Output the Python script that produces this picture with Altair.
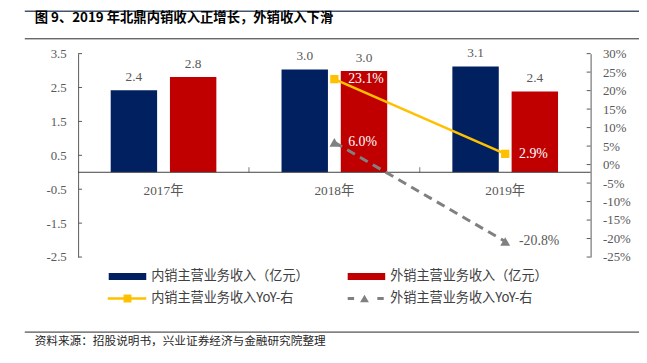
import altair as alt
import pandas as pd

# ---------------- data ----------------
years = ["2017年", "2018年", "2019年"]
series = ["内销主营业务收入（亿元）", "外销主营业务收入（亿元）"]
domestic_rev = [2.42, 3.03, 3.12]
export_rev = [2.81, 2.99, 2.38]
yoy_years = ["2018年", "2019年"]
domestic_yoy = [23.1, 2.9]
export_yoy = [6.0, -20.8]
left_ticks = [-2.5, -1.5, -0.5, 0.5, 1.5, 2.5, 3.5]
right_ticks = [-25, -20, -15, -10, -5, 0, 5, 10, 15, 20, 25, 30]
legend_labels = ["内销主营业务收入（亿元）", "外销主营业务收入（亿元）",
                 "内销主营业务收入YoY-右", "外销主营业务收入YoY-右"]
title_text = "图 9、2019 年北鼎内销收入正增长，外销收入下滑"
source_text = "资料来源：招股说明书，兴业证券经济与金融研究院整理"

# ---------------- style ----------------
NAVY, RED, YELLOW, GRAY = "#002060", "#C00000", "#FFC000", "#808080"
TXT = "#595959"
NUMFONT = "'Liberation Serif', 'Noto Sans CJK SC', serif"
CJK = "'Noto Sans CJK SC', sans-serif"
W, H = 519, 206

bars_df = pd.DataFrame({
    "year": years * 2,
    "series": [series[0]] * 3 + [series[1]] * 3,
    "value": domestic_rev + export_rev,
})
bars_df["label"] = bars_df["value"].map(lambda v: f"{v:.1f}")

dom_df = pd.DataFrame({"year": yoy_years, "yoy": domestic_yoy})
exp_df = pd.DataFrame({"year": yoy_years, "yoy": export_yoy})
yoy_df = pd.concat([dom_df, exp_df], ignore_index=True)
yoy_df["label"] = yoy_df["yoy"].map(lambda v: f"{v:.1f}%")

XS = alt.Scale(type="band", domain=years, paddingInner=0, paddingOuter=0)
X = alt.X("year:N", scale=XS, axis=None)
SL = alt.Scale(domain=[-2.5, 3.5], nice=False)
SR = alt.Scale(domain=[-25, 30], nice=False, zero=False)
AL = alt.Axis(orient="left", values=left_ticks, labelExpr="'' + datum.value", tickSize=0, grid=False,
              title=None, domainColor="#595959", labelColor=TXT, labelFont=NUMFONT,
              labelFontSize=13, labelPadding=12)
AR = alt.Axis(orient="right", values=right_ticks, labelExpr="datum.value + '%'", tickSize=0,
              grid=False, title=None, domainColor="#595959", labelColor=TXT,
              labelFont=NUMFONT, labelFontSize=13, labelPadding=12)
XOFF = alt.XOffset("series:N", scale=alt.Scale(domain=series, paddingInner=0.2167, paddingOuter=0.55))

one = pd.DataFrame({"v": [0]})

# ---------------- left (bars) group ----------------
bars = alt.Chart(bars_df).mark_bar().encode(
    x=X, xOffset=XOFF,
    y=alt.Y("value:Q", scale=SL, axis=AL),
    color=alt.Color("series:N", scale=alt.Scale(domain=series, range=[NAVY, RED]), legend=None),
)
bar_labels = alt.Chart(bars_df).mark_text(dy=-13.5, font=NUMFONT, fontSize=13.5, color=TXT, baseline="middle").encode(
    x=X, xOffset=XOFF,
    y=alt.Y("value:Q", scale=SL, axis=AL),
    text="label:N",
)
zero_line = alt.Chart(one).mark_rule(color="#404040", strokeWidth=1).encode(
    y=alt.Y("v:Q", scale=SL, axis=AL), x=alt.value(0), x2=alt.value(W))
left_tick_marks = alt.Chart(pd.DataFrame({"v": left_ticks})).mark_rule(color="#595959").encode(
    y=alt.Y("v:Q", scale=SL, axis=AL), x=alt.value(0), x2=alt.value(4))
x_ticks = alt.Chart(pd.DataFrame({"year": years[1:], "v": [0, 0]})).mark_tick(
    orient="vertical", size=5, thickness=1, color="#404040").encode(
    x=alt.X("year:N", scale=XS, axis=None, bandPosition=0),
    y=alt.Y("v:Q", scale=SL, axis=AL), yOffset=alt.value(-2.5))
x_labels = alt.Chart(pd.DataFrame({"year": years, "v": [0, 0, 0]})).mark_text(
    dy=19, font=NUMFONT, fontSize=13.5, color=TXT, baseline="middle").encode(
    x=X, y=alt.Y("v:Q", scale=SL, axis=AL), text="year:N")

# decorations (title, rules, legend, source)
def txt(s, x, y, size, color="#262626", weight="normal", font=CJK):
    return alt.Chart(pd.DataFrame({"t": [s]})).mark_text(
        align="left", baseline="middle", font=font, fontSize=size, color=color, fontWeight=weight
    ).encode(x=alt.value(x), y=alt.value(y), text="t:N")

def hrule(x1, x2, y, color, width, dash=None):
    kw = dict(color=color, strokeWidth=width, strokeCap="butt")
    if dash:
        kw["strokeDash"] = dash
    return alt.Chart(one).mark_rule(**kw).encode(x=alt.value(x1), x2=alt.value(x2), y=alt.value(y))

def marker(shape, x, y, size, color):
    return alt.Chart(one).mark_point(shape=shape, filled=True, size=size, color=color, opacity=1).encode(
        x=alt.value(x), y=alt.value(y))

deco = [
    hrule(-54, 568, -43, "#44546A", 1.5),
    txt(title_text, -44, -36, 13.5, color="#000000", weight="bold"),
    hrule(-54, 568, -15, "#262626", 1),
    hrule(31, 69, 225.7, NAVY, 7),
    txt(legend_labels[0], 74, 225.7, 13.3, color="#404040"),
    hrule(273, 311, 225.7, RED, 7),
    txt(legend_labels[1], 316, 225.7, 13.3, color="#404040"),
    hrule(30, 69, 248, YELLOW, 2.5),
    marker("square", 50, 248, 64, YELLOW),
    txt(legend_labels[2], 74, 248, 13.3, color="#404040"),
    hrule(273, 309.5, 248, GRAY, 3, dash=[6.5, 23.5]),
    marker("triangle-up", 290, 248, 80, GRAY),
    txt(legend_labels[3], 316, 248, 13.3, color="#404040"),
    hrule(-54, 568, 282, "#262626", 1),
    txt(source_text, -44, 291, 11.8, color="#262626"),
]

left = alt.layer(bars, bar_labels, zero_line, left_tick_marks, x_ticks, x_labels, *deco)

# ---------------- right (YoY) group ----------------
dom_line = alt.Chart(dom_df).mark_line(color=YELLOW, strokeWidth=2.5).encode(
    x=X, y=alt.Y("yoy:Q", scale=SR, axis=AR))
exp_line = alt.Chart(exp_df).mark_line(color=GRAY, strokeWidth=3, strokeDash=[9, 6]).encode(
    x=X, y=alt.Y("yoy:Q", scale=SR, axis=AR))
dom_pts = alt.Chart(dom_df).mark_point(shape="square", filled=True, size=70, color=YELLOW, opacity=1).encode(
    x=X, y=alt.Y("yoy:Q", scale=SR, axis=AR))
exp_pts = alt.Chart(exp_df).mark_point(shape="triangle-up", filled=True, size=100, color=GRAY, opacity=1).encode(
    x=X, y=alt.Y("yoy:Q", scale=SR, axis=AR))
yoy_labels = alt.Chart(yoy_df).mark_text(align="left", baseline="middle", dx=14, font=NUMFONT, fontSize=14).encode(
    x=X, y=alt.Y("yoy:Q", scale=SR, axis=AR), text="label:N",
    color=alt.condition(alt.datum.yoy < -10, alt.value(TXT), alt.value("white")))
right_tick_marks = alt.Chart(pd.DataFrame({"yoy": right_ticks})).mark_rule(color="#595959").encode(
    y=alt.Y("yoy:Q", scale=SR, axis=AR), x=alt.value(W - 4), x2=alt.value(W))

right = alt.layer(dom_line, exp_line, dom_pts, exp_pts, yoy_labels, right_tick_marks)

chart = alt.layer(left, right).resolve_scale(y="independent").properties(
    width=W, height=H, autosize="none",
    padding={"left": 71, "top": 44, "right": 49, "bottom": 96},
).configure_view(stroke=None)

chart.save("out.html", embed_options={"renderer": "svg", "actions": False})
